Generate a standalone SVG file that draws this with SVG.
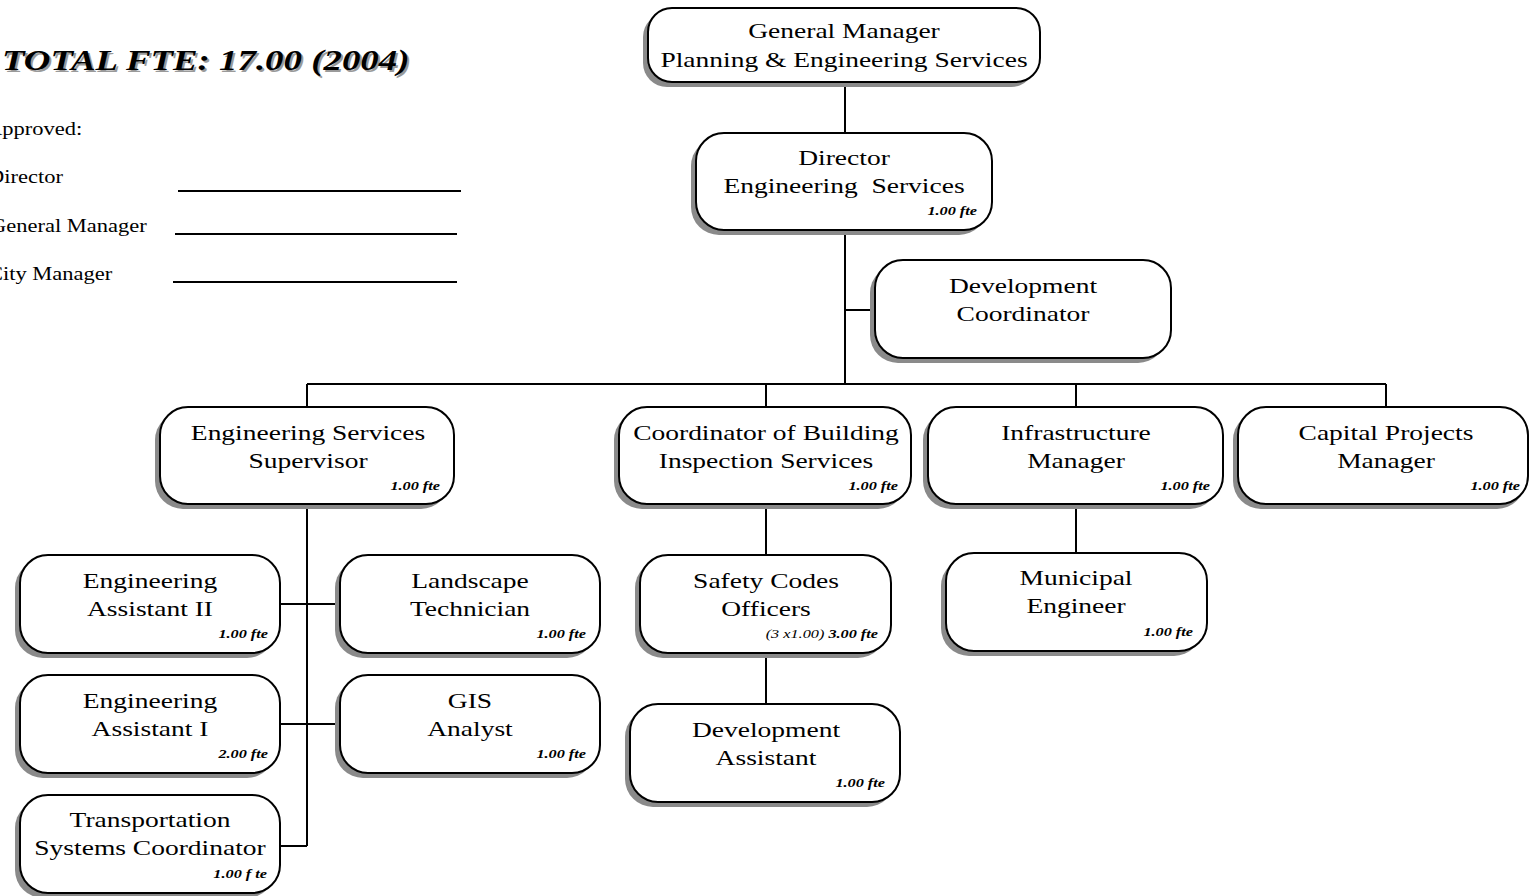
<svg xmlns="http://www.w3.org/2000/svg" width="1530" height="896" viewBox="0 0 1530 896">
  <style>
    .box { fill: #ffffff; stroke: #000000; stroke-width: 2; }
    .shadow { fill: #8a8a8a; stroke: none; }
    .t { font-family: "Liberation Serif", "Times New Roman", serif; font-size: 22px; fill: #000; text-anchor: middle; }
    .fte { font-family: "Liberation Serif", "Times New Roman", serif; font-size: 13px; font-weight: bold; font-style: italic; fill: #000; text-anchor: end; }
    .fte .plain { font-weight: normal; }
    .side { font-family: "Liberation Serif", "Times New Roman", serif; font-size: 18px; fill: #000; }
    .title { font-family: "Liberation Serif", "Times New Roman", serif; font-size: 29.5px; font-weight: bold; font-style: italic; }
    .conn line { stroke: #000; stroke-width: 2; fill: none; }
    .sig { stroke: #000; stroke-width: 2; }
  </style>

  <!-- header and sign-off block -->
  <g id="header">
    <text class="title" fill="#9a9a9a" transform="translate(4,72) scale(1.25,1)">TOTAL FTE: 17.00 (2004)</text>
    <text class="title" fill="#000" transform="translate(2,70) scale(1.25,1)">TOTAL FTE: 17.00 (2004)</text>
    <text class="side" transform="translate(-14,135) scale(1.25,1)">Approved:</text>
    <text class="side" transform="translate(-12,183) scale(1.25,1)">Director</text>
    <text class="side" transform="translate(-10,232) scale(1.25,1)">General Manager</text>
    <text class="side" transform="translate(-12,280) scale(1.25,1)">City Manager</text>
    <line class="sig" x1="178" y1="191" x2="461" y2="191"/>
    <line class="sig" x1="175" y1="234" x2="457" y2="234"/>
    <line class="sig" x1="173" y1="282" x2="457" y2="282"/>
  </g>

  <!-- reporting lines -->
  <g id="connectors" class="conn">
    <line x1="845" y1="82" x2="845" y2="133"/>
    <line x1="845" y1="230" x2="845" y2="384"/>
    <line x1="845" y1="310" x2="875" y2="310"/>
    <line x1="307" y1="384" x2="1386" y2="384"/>
    <line x1="307" y1="384" x2="307" y2="407"/>
    <line x1="766" y1="384" x2="766" y2="407"/>
    <line x1="1076" y1="384" x2="1076" y2="407"/>
    <line x1="1386" y1="384" x2="1386" y2="407"/>
    <line x1="307" y1="504" x2="307" y2="846"/>
    <line x1="280" y1="604" x2="340" y2="604"/>
    <line x1="280" y1="724" x2="340" y2="724"/>
    <line x1="280" y1="846" x2="307" y2="846"/>
    <line x1="766" y1="504" x2="766" y2="555"/>
    <line x1="766" y1="653" x2="766" y2="704"/>
    <line x1="1076" y1="504" x2="1076" y2="553"/>
  </g>

  <g id="gm">
    <rect class="shadow" x="643" y="13" width="392" height="74" rx="24"/>
    <rect class="box" x="648" y="8" width="392" height="74" rx="24"/>
    <text class="t" transform="translate(844,38) scale(1.25,1)">General Manager</text>
    <text class="t" transform="translate(844,67) scale(1.25,1)">Planning &amp; Engineering Services</text>
  </g>

  <g id="director">
    <rect class="shadow" x="691" y="138" width="296" height="97" rx="28"/>
    <rect class="box" x="696" y="133" width="296" height="97" rx="28"/>
    <text class="t" transform="translate(844,165) scale(1.25,1)">Director</text>
    <text class="t" transform="translate(844,193) scale(1.25,1)">Engineering&#160; Services</text>
    <text class="fte" transform="translate(977,215) scale(1.25,1)">1.00 fte</text>
  </g>

  <g id="dev-coordinator">
    <rect class="shadow" x="870" y="265" width="296" height="98" rx="28"/>
    <rect class="box" x="875" y="260" width="296" height="98" rx="28"/>
    <text class="t" transform="translate(1023,293) scale(1.25,1)">Development</text>
    <text class="t" transform="translate(1023,321) scale(1.25,1)">Coordinator</text>
  </g>

  <g id="eng-supervisor">
    <rect class="shadow" x="155" y="412" width="294" height="97" rx="28"/>
    <rect class="box" x="160" y="407" width="294" height="97" rx="28"/>
    <text class="t" transform="translate(308,440) scale(1.25,1)">Engineering Services</text>
    <text class="t" transform="translate(308,468) scale(1.25,1)">Supervisor</text>
    <text class="fte" transform="translate(440,490) scale(1.25,1)">1.00 fte</text>
  </g>

  <g id="building-coordinator">
    <rect class="shadow" x="614" y="412" width="292" height="97" rx="28"/>
    <rect class="box" x="619" y="407" width="292" height="97" rx="28"/>
    <text class="t" transform="translate(766,440) scale(1.25,1)">Coordinator of Building</text>
    <text class="t" transform="translate(766,468) scale(1.25,1)">Inspection Services</text>
    <text class="fte" transform="translate(898,490) scale(1.25,1)">1.00 fte</text>
  </g>

  <g id="infrastructure-manager">
    <rect class="shadow" x="923" y="412" width="295" height="97" rx="28"/>
    <rect class="box" x="928" y="407" width="295" height="97" rx="28"/>
    <text class="t" transform="translate(1076,440) scale(1.25,1)">Infrastructure</text>
    <text class="t" transform="translate(1076,468) scale(1.25,1)">Manager</text>
    <text class="fte" transform="translate(1210,490) scale(1.25,1)">1.00 fte</text>
  </g>

  <g id="capital-projects-manager">
    <rect class="shadow" x="1233" y="412" width="292" height="97" rx="28"/>
    <rect class="box" x="1238" y="407" width="290" height="97" rx="28"/>
    <text class="t" transform="translate(1386,440) scale(1.25,1)">Capital Projects</text>
    <text class="t" transform="translate(1386,468) scale(1.25,1)">Manager</text>
    <text class="fte" transform="translate(1520,490) scale(1.25,1)">1.00 fte</text>
  </g>

  <g id="eng-assistant-2">
    <rect class="shadow" x="15" y="560" width="260" height="98" rx="28"/>
    <rect class="box" x="20" y="555" width="260" height="98" rx="28"/>
    <text class="t" transform="translate(150,588) scale(1.25,1)">Engineering</text>
    <text class="t" transform="translate(150,616) scale(1.25,1)">Assistant II</text>
    <text class="fte" transform="translate(268,638) scale(1.25,1)">1.00 fte</text>
  </g>

  <g id="landscape-technician">
    <rect class="shadow" x="335" y="560" width="260" height="98" rx="28"/>
    <rect class="box" x="340" y="555" width="260" height="98" rx="28"/>
    <text class="t" transform="translate(470,588) scale(1.25,1)">Landscape</text>
    <text class="t" transform="translate(470,616) scale(1.25,1)">Technician</text>
    <text class="fte" transform="translate(586,638) scale(1.25,1)">1.00 fte</text>
  </g>

  <g id="eng-assistant-1">
    <rect class="shadow" x="15" y="680" width="260" height="98" rx="28"/>
    <rect class="box" x="20" y="675" width="260" height="98" rx="28"/>
    <text class="t" transform="translate(150,708) scale(1.25,1)">Engineering</text>
    <text class="t" transform="translate(150,736) scale(1.25,1)">Assistant I</text>
    <text class="fte" transform="translate(268,758) scale(1.25,1)">2.00 fte</text>
  </g>

  <g id="gis-analyst">
    <rect class="shadow" x="335" y="680" width="260" height="98" rx="28"/>
    <rect class="box" x="340" y="675" width="260" height="98" rx="28"/>
    <text class="t" transform="translate(470,708) scale(1.25,1)">GIS</text>
    <text class="t" transform="translate(470,736) scale(1.25,1)">Analyst</text>
    <text class="fte" transform="translate(586,758) scale(1.25,1)">1.00 fte</text>
  </g>

  <g id="transportation-coordinator">
    <rect class="shadow" x="15" y="800" width="260" height="98" rx="28"/>
    <rect class="box" x="20" y="795" width="260" height="98" rx="28"/>
    <text class="t" transform="translate(150,827) scale(1.25,1)">Transportation</text>
    <text class="t" transform="translate(150,855) scale(1.25,1)">Systems Coordinator</text>
    <text class="fte" transform="translate(267,878) scale(1.25,1)">1.00 f te</text>
  </g>

  <g id="safety-codes-officers">
    <rect class="shadow" x="635" y="560" width="251" height="98" rx="28"/>
    <rect class="box" x="640" y="555" width="251" height="98" rx="28"/>
    <text class="t" transform="translate(766,588) scale(1.25,1)">Safety Codes</text>
    <text class="t" transform="translate(766,616) scale(1.25,1)">Officers</text>
    <text class="fte" transform="translate(878,638) scale(1.25,1)"><tspan class="plain">(3 x1.00) </tspan>3.00 fte</text>
  </g>

  <g id="development-assistant">
    <rect class="shadow" x="625" y="709" width="270" height="98" rx="28"/>
    <rect class="box" x="630" y="704" width="270" height="98" rx="28"/>
    <text class="t" transform="translate(766,737) scale(1.25,1)">Development</text>
    <text class="t" transform="translate(766,765) scale(1.25,1)">Assistant</text>
    <text class="fte" transform="translate(885,787) scale(1.25,1)">1.00 fte</text>
  </g>

  <g id="municipal-engineer">
    <rect class="shadow" x="941" y="558" width="261" height="98" rx="28"/>
    <rect class="box" x="946" y="553" width="261" height="98" rx="28"/>
    <text class="t" transform="translate(1076,585) scale(1.25,1)">Municipal</text>
    <text class="t" transform="translate(1076,613) scale(1.25,1)">Engineer</text>
    <text class="fte" transform="translate(1193,636) scale(1.25,1)">1.00 fte</text>
  </g>
</svg>
